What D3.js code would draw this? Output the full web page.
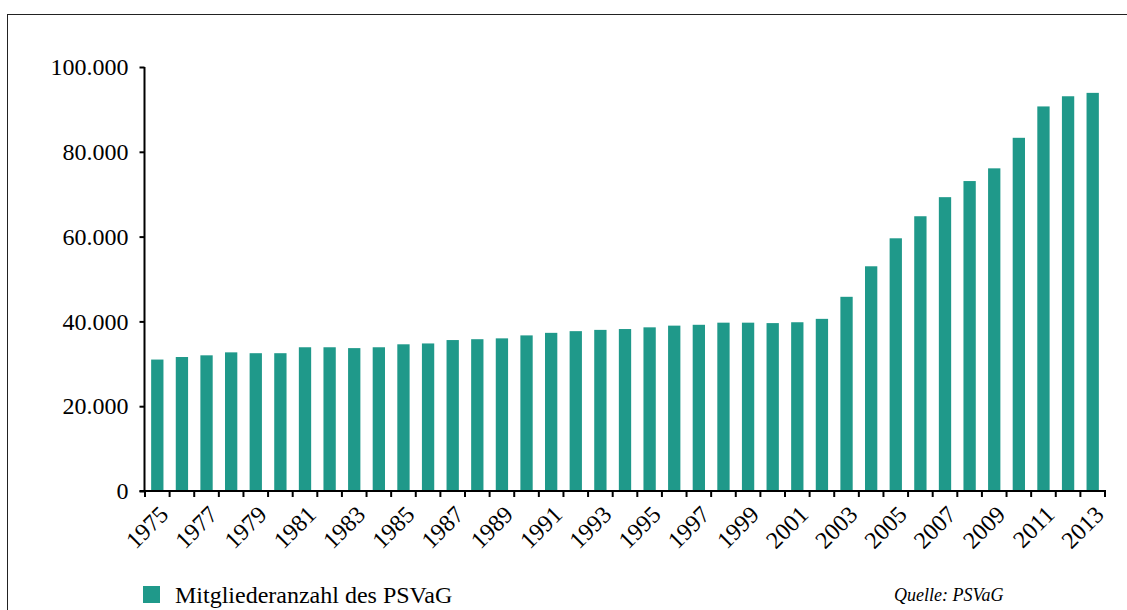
<!DOCTYPE html>
<html>
<head>
<meta charset="utf-8">
<script src="https://cdn.jsdelivr.net/npm/d3@7"></script>
<style>
  html, body { margin: 0; padding: 0; background: #fff; }
  svg { display: block; }
  text { font-family: "Liberation Serif", "DejaVu Serif", serif; fill: #000; }
</style>
</head>
<body>
<svg id="chart" width="1127" height="610"></svg>
<script>
const years = ["1975","1976","1977","1978","1979","1980","1981","1982","1983","1984","1985","1986","1987","1988","1989","1990","1991","1992","1993","1994","1995","1996","1997","1998","1999","2000","2001","2002","2003","2004","2005","2006","2007","2008","2009","2010","2011","2012","2013"];
const members = [31000,31600,32000,32700,32500,32500,33900,33900,33700,33900,34600,34800,35600,35800,36000,36700,37300,37700,38000,38200,38600,39000,39200,39700,39700,39600,39800,40600,45800,53000,59600,64800,69300,73100,76100,83300,90700,93100,93900];
const xTickLabels = ["1975","1977","1979","1981","1983","1985","1987","1989","1991","1993","1995","1997","1999","2001","2003","2005","2007","2009","2011","2013"];
const yTicks = [0,20000,40000,60000,80000,100000];
const seriesName = "Mitgliederanzahl des PSVaG";
const sourceText = "Quelle: PSVaG";

const color = "#1f998a";
const svg = d3.select("#chart");

// frame
svg.append("rect").attr("x",7.5).attr("y",14.5).attr("width",1140).attr("height",620)
  .attr("fill","none").attr("stroke","#222").attr("stroke-width",1);

const x0 = d3.scaleBand().domain(years).range([145,1105]).padding(0);
const x = d3.scaleBand().domain(years).range([145,1105]).paddingInner(0.5).paddingOuter(0.25);
const y = d3.scaleLinear().domain([0,100000]).range([491,67]);

// bars
svg.append("g").selectAll("rect").data(years).join("rect")
  .attr("x", d => x(d))
  .attr("width", x.bandwidth())
  .attr("y", (d,i) => y(members[i]))
  .attr("height", (d,i) => y(0) - y(members[i]))
  .attr("fill", color);

// y axis
const fmt = v => v === 0 ? "0" : d3.format(",")(v).replace(/,/g,".");
const yAxis = svg.append("g").attr("transform","translate(144.5,0)")
  .call(d3.axisLeft(y).tickValues(yTicks).tickSize(5).tickPadding(11).tickFormat(fmt));
yAxis.select(".domain").attr("stroke","#000").attr("stroke-width",2).attr("d","M0,67V491");
yAxis.selectAll(".tick line").attr("stroke","#000").attr("stroke-width",2);
yAxis.selectAll(".tick text").attr("font-size",24).attr("font-family","Liberation Serif, serif").attr("fill","#000");

// x axis line
svg.append("line").attr("x1",139.5).attr("x2",1106).attr("y1",491).attr("y2",491)
  .attr("stroke","#000").attr("stroke-width",2);
// x ticks at band boundaries
const bounds = years.map(d => x0(d)).concat([x0.range()[1]]);
svg.append("g").selectAll("line").data(bounds).join("line")
  .attr("x1", d => d).attr("x2", d => d)
  .attr("y1", 491).attr("y2", 497)
  .attr("stroke","#000").attr("stroke-width",2);

// x labels
svg.append("g").selectAll("text").data(xTickLabels).join("text")
  .attr("transform", d => `translate(${x(d) + x.bandwidth()/2 + 12.5},516) rotate(-45)`)
  .attr("text-anchor","end")
  .attr("font-size",24)
  .text(d => d);

// legend
svg.append("rect").attr("x",143).attr("y",586).attr("width",17).attr("height",17).attr("fill",color);
svg.append("text").attr("x",175).attr("y",603).attr("font-size",24).text(seriesName);

// source
svg.append("text").attr("x",894).attr("y",601).attr("font-size",18).attr("font-style","italic").text(sourceText);
</script>
</body>
</html>
